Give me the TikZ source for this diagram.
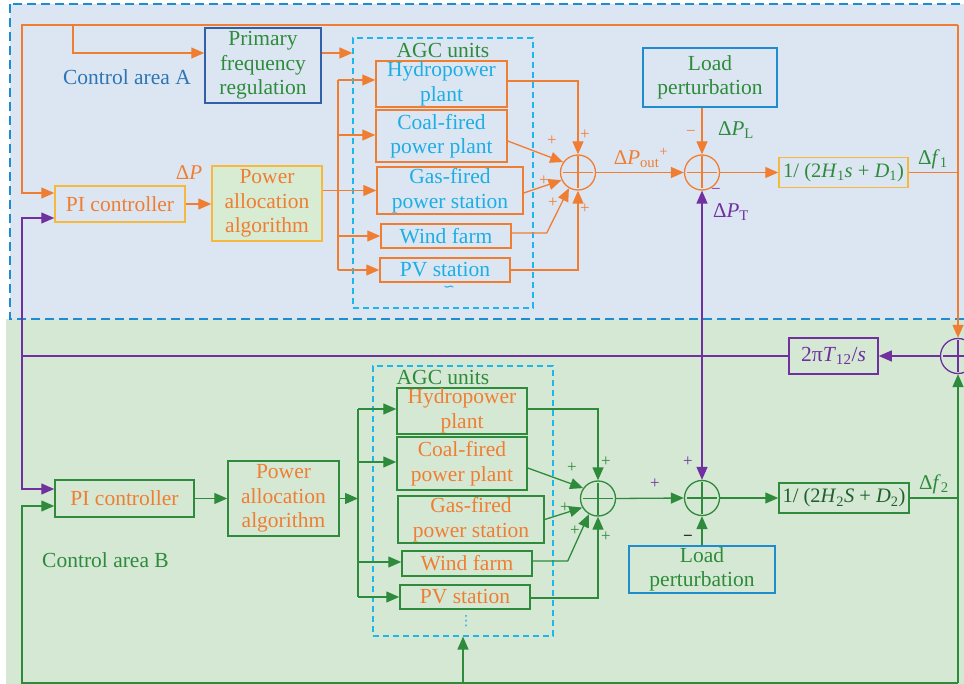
\documentclass[tikz,border=0pt]{standalone}
\usepackage{fontspec}
\setmainfont{Liberation Serif}
\newfontfamily\djv{DejaVu Sans}
\usetikzlibrary{arrows.meta,calc}
\definecolor{cor}{RGB}{240,126,50}
\definecolor{cpu}{RGB}{112,48,160}
\definecolor{cgr}{RGB}{46,139,60}
\definecolor{cdg}{RGB}{30,95,45}
\definecolor{ccy}{RGB}{28,174,228}
\definecolor{cbl}{RGB}{46,117,182}
\definecolor{cye}{RGB}{247,185,60}
\definecolor{bgA}{RGB}{220,230,242}
\definecolor{bgB}{RGB}{213,232,212}
\definecolor{paf}{RGB}{216,235,211}
\definecolor{cdb}{RGB}{50,95,165}
\definecolor{cld}{RGB}{30,140,205}
\definecolor{cagc}{RGB}{30,182,235}
\definecolor{cbd}{RGB}{30,140,210}
\definecolor{cmk}{RGB}{40,40,40}
\newcommand{\vix}[1]{\textit{#1}}
\newcommand{\sbx}[1]{\textsubscript{#1}}
\begin{document}
\begin{tikzpicture}[x=1pt,y=-1pt,
  font=\fontsize{21.5}{24.5}\selectfont,
  >={Triangle[length=13pt,width=11pt]},
  line width=1.3pt,
  box/.style={draw, rectangle, inner sep=0pt, align=center, line width=1.5pt},
  agcbox/.style={draw=cagc, rectangle, dash pattern=on 6pt off 4pt, line width=1.2pt, inner sep=0pt},
  sumc/.style={circle, draw=#1, line width=1.3pt, minimum size=35pt, inner sep=0pt,
    path picture={\draw[#1, line width=1.1pt]
      ([xshift=-15pt]path picture bounding box.center) -- ([xshift=15pt]path picture bounding box.center)
      ([yshift=-16pt]path picture bounding box.center) -- ([yshift=16pt]path picture bounding box.center);}},
  sgn/.style={font=\fontsize{17}{17}\selectfont, inner sep=0pt},
  mlab/.style={font=\fontsize{21}{21}\selectfont, inner sep=1pt}
]
\useasboundingbox (0,0) rectangle (964,684);
% backgrounds
\fill[bgB] (6,319) rectangle (964,684);
\fill[bgA] (10,4) rectangle (964,319);
\draw[cbd, line width=1.3pt, dash pattern=on 9pt off 5pt] (10,4) rectangle (975,319);

% ---------------- Area A ----------------
\node[text=cbl] (ctA) at (127,77) {Control area A};
\node[box, draw=cdb, text=cgr, minimum width=116, minimum height=75] (pfr) at (263,65.5) {Primary\\frequency\\regulation};
\node[box, draw=cye, text=cor, minimum width=130, minimum height=36] (piA) at (120,204) {PI controller};
\node[box, draw=cye, fill=paf, text=cor, minimum width=110, minimum height=75] (paA) at (267,203.5) {Power\\allocation\\algorithm};
\node[agcbox, minimum width=180, minimum height=270] (agcA) at (443,173) {};
\node[text=cgr] (agcAt) at (443,50) {AGC units};
\node[box, draw=cor, text=ccy, minimum width=131, minimum height=46] (hydA) at (441.5,84) {Hydropower\\plant};
\node[box, draw=cor, text=ccy, minimum width=131, minimum height=52] (coalA) at (441.5,136) {Coal-fired\\power plant};
\node[box, draw=cor, text=ccy, minimum width=146, minimum height=47] (gasA) at (450,190.5) {Gas-fired\\power station};
\node[box, draw=cor, text=ccy, minimum width=130, minimum height=24] (windA) at (446,236) {Wind farm};
\node[box, draw=cor, text=ccy, minimum width=130, minimum height=24] (pvA) at (445,270) {PV station};
\node[text=ccy, font=\djv\fontsize{14}{14}\selectfont, inner sep=0pt] (sqA) at (449,289) {∽};
\node[sumc=cor] (sA1) at (578,172.5) {};
\node[sumc=cor] (sA2) at (702,172.5) {};
\node[box, draw=cld, text=cgr, minimum width=134, minimum height=59] (loadA) at (710,77.5) {Load\\perturbation};
\node[box, draw=cye, text=cgr, minimum width=129, minimum height=30, font=\fontsize{20.5}{20.5}\selectfont] (gA) at (843.5,172.5) {1/ (2\vix{H}\sbx{1}\vix{s} + \vix{D}\sbx{1})};
\node[sumc=cpu] (sR) at (958,356) {};

% labels A
\node[text=cor, mlab] (dP) at (189,173) {Δ\vix{P}};
\node[text=cor, mlab] (dPo) at (641,158) {Δ\vix{P}\sbx{out}\textsuperscript{+}};
\node[text=cor, sgn] (mL) at (691,133) {−};
\node[text=cgr, mlab] (dPL) at (736,130) {Δ\vix{P}\sbx{L}};
\node[text=cpu, sgn] (mT) at (716,191) {−};
\node[text=cpu, mlab] (dPT) at (731,212) {Δ\vix{P}\sbx{T}};
\node[text=cgr, mlab] (df1) at (933,159) {Δ\vix{f}\sbx{1}};
\node[text=cor, sgn] (pA1) at (552,141) {+};
\node[text=cor, sgn] (pA2) at (585,135) {+};
\node[text=cor, sgn] (pA3) at (544,181) {+};
\node[text=cor, sgn] (pA4) at (553,203) {+};
\node[text=cor, sgn] (pA5) at (585,209) {+};

% connectors A
\coordinate (tl) at (22,25);
\coordinate (tr) at (958,25);
\coordinate (ta) at (73,25);
\coordinate (piAo) at ($(piA.west)+(0,-11)$);
\coordinate (piAp) at ($(piA.west)+(0,14)$);
\coordinate (pfrIn) at ($(pfr.west)+(0,-12.5)$);
\draw[cor,->] (tr) -- (sR.north);
\draw[cor] (gA.east) -- (gA.east -| sR.center);
\draw[cor,->] (tr) -- (tl) -- (tl |- piAo) -- (piAo);
\draw[cor,->] (ta) -- (ta |- pfrIn) -- (pfrIn);
\draw[cor,->] (pfrIn -| pfr.east) -- (pfrIn -| agcA.west);
\draw[cor,->] (piA.east) -- (piA.east -| paA.west);
\coordinate (paAo) at ($(paA.east)+(0,-13)$);
\draw[cor,->] (paAo) -- (paAo -| gasA.west);
\coordinate (bA1) at (338,80);
\coordinate (bA2) at (338,135);
\coordinate (bA4) at (338,236);
\coordinate (bA5) at (338,270);
\draw[cor] (bA1) -- (bA5);
\draw[cor,->] (bA1) -- (bA1 -| hydA.west);
\draw[cor,->] (bA2) -- (bA2 -| coalA.west);
\draw[cor,->] (bA4) -- (bA4 -| windA.west);
\draw[cor,->] (bA5) -- (bA5 -| pvA.west);
\coordinate (hAo) at ($(hydA.east)+(0,-3)$);
\coordinate (cAo) at ($(coalA.east)+(0,5)$);
\coordinate (gAo) at ($(gasA.east)+(0,2.5)$);
\coordinate (wAo) at ($(windA.east)+(0,-3)$);
\draw[cor,->] (hAo) -- (hAo -| sA1) -- (sA1.north);
\draw[cor,->] (cAo) -- (sA1.145);
\draw[cor,->] (gAo) -- (sA1.205);
\draw[cor,->] (wAo) -- ++(35,0) -- (sA1.240);
\draw[cor,->] (pvA.east) -- (pvA.east -| sA1) -- (sA1.south);
\draw[cor,->] (sA1.east) -- (sA2.west);
\draw[cor,->] (loadA.south -| sA2) -- (sA2.north);
\draw[cor,->] (sA2.east) -- (gA.west);

% ---------------- Area B ----------------
\node[text=cgr] (ctB) at (105.5,560) {Control area B};
\node[box, draw=cpu, text=cpu, minimum width=89, minimum height=36] (tB) at (833.5,356) {2π\vix{T}\sbx{12}/\vix{s}};
\node[box, draw=cgr, text=cor, minimum width=139, minimum height=37] (piB) at (124.5,498.5) {PI controller};
\node[box, draw=cgr, text=cor, minimum width=111, minimum height=75] (paB) at (283.5,498.5) {Power\\allocation\\algorithm};
\node[agcbox, minimum width=180, minimum height=270] (agcB) at (463,501) {};
\node[text=cgr] (agcBt) at (443,377) {AGC units};
\node[box, draw=cgr, text=cor, minimum width=130, minimum height=46] (hydB) at (462,411) {Hydropower\\plant};
\node[box, draw=cgr, text=cor, minimum width=130, minimum height=53] (coalB) at (462,463.5) {Coal-fired\\power plant};
\node[box, draw=cgr, text=cor, minimum width=146, minimum height=47] (gasB) at (471,519.5) {Gas-fired\\power station};
\node[box, draw=cgr, text=cor, minimum width=130, minimum height=25] (windB) at (467,563.5) {Wind farm};
\node[box, draw=cgr, text=cor, minimum width=130, minimum height=24] (pvB) at (465,597) {PV station};
\node[text=ccy, font=\djv\fontsize{14}{14}\selectfont, inner sep=0pt] (dotB) at (466,621) {⋮};
\node[sumc=cgr] (sB1) at (598,498.5) {};
\node[sumc=cgr] (sB2) at (702,498) {};
\node[box, draw=cld, text=cgr, minimum width=146, minimum height=47] (loadB) at (702,569.5) {Load\\perturbation};
\node[box, draw=cgr, text=cdg, minimum width=130, minimum height=30, font=\fontsize{20.5}{20.5}\selectfont] (gB) at (844,498) {1/ (2\vix{H}\sbx{2}\vix{S} + \vix{D}\sbx{2})};

% labels B
\node[text=cgr, mlab] (df2) at (934,484) {Δ\vix{f}\sbx{2}};
\node[text=cgr, sgn] (pB1) at (572,468) {+};
\node[text=cgr, sgn] (pB2) at (606,462) {+};
\node[text=cgr, sgn] (pB3) at (565,508) {+};
\node[text=cgr, sgn] (pB4) at (575,531) {+};
\node[text=cgr, sgn] (pB5) at (606,537) {+};
\node[text=cpu, sgn] (pB6) at (655,484) {+};
\node[text=cpu, sgn] (pB7) at (688,462) {+};
\node[text=cmk, sgn] (mB) at (688,538) {\bfseries −};

% connectors B / tie line
\draw[cpu,<->] (sA2.south) -- (sB2.north);
\coordinate (piBp) at ($(piB.west)+(0,-9.5)$);
\coordinate (piBg) at ($(piB.west)+(0,7.5)$);
\draw[cpu,->] (sR.west) -- (tB.east);
\draw[cpu] (tB.west) -- (tB.west -| tl);
\draw[cpu,->] (tB.west -| tl) -- (tl |- piAp) -- (piAp);
\draw[cpu,->] (tB.west -| tl) -- (tl |- piBp) -- (piBp);
\coordinate (bl) at (22,683);
\coordinate (br) at (958,683);
\coordinate (bm) at (463,683);
\draw[cgr,->] (br) -- (sR.south);
\draw[cgr] (gB.east) -- (gB.east -| sR.center);
\draw[cgr,->] (br) -- (bl) -- (bl |- piBg) -- (piBg);
\draw[cgr,->] (bm) -- (agcB.south);
\draw[cgr,->] (piB.east) -- (piB.east -| paB.west);
\coordinate (bB1) at (358,409);
\coordinate (bB2) at (358,462);
\coordinate (bB4) at (358,562);
\coordinate (bB5) at (358,597);
\draw[cgr,->] (paB.east) -- (paB.east -| bB1);
\draw[cgr] (bB1) -- (bB5);
\draw[cgr,->] (bB1) -- (bB1 -| hydB.west);
\draw[cgr,->] (bB2) -- (bB2 -| coalB.west);
\draw[cgr,->] (bB4) -- (bB4 -| windB.west);
\draw[cgr,->] (bB5) -- (bB5 -| pvB.west);
\coordinate (hBo) at ($(hydB.east)+(0,-2)$);
\coordinate (cBo) at ($(coalB.east)+(0,4.5)$);
\coordinate (wBo) at ($(windB.east)+(0,-2.5)$);
\coordinate (pBo) at ($(pvB.east)+(0,1)$);
\draw[cgr,->] (hBo) -- (hBo -| sB1) -- (sB1.north);
\draw[cgr,->] (cBo) -- (sB1.145);
\draw[cgr,->] (gasB.east) -- (sB1.210);
\draw[cgr,->] (wBo) -- ++(35,0) -- (sB1.240);
\draw[cgr,->] (pBo) -- (pBo -| sB1) -- (sB1.south);
\draw[cgr,->] (sB1.east) -- (sB2.west);
\draw[cgr,->] (loadB.north -| sB2) -- (sB2.south);
\draw[cgr,->] (sB2.east) -- (gB.west);
\end{tikzpicture}
\end{document}
